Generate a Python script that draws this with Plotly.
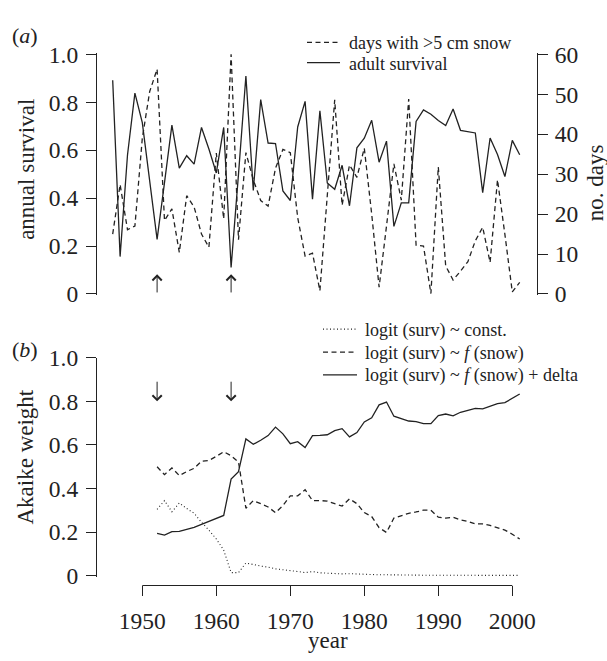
import plotly.graph_objects as go

# ---------------- data ----------------
years_a = list(range(1946, 2002))
adult_survival = [0.892, 0.156, 0.580, 0.838, 0.715, 0.470, 0.228, 0.465, 0.705, 0.525,
                  0.577, 0.542, 0.695, 0.605, 0.505, 0.695, 0.111, 0.500, 0.910, 0.432,
                  0.811, 0.630, 0.628, 0.430, 0.390, 0.697, 0.804, 0.396, 0.764, 0.463,
                  0.437, 0.537, 0.368, 0.610, 0.650, 0.725, 0.550, 0.638, 0.282, 0.380,
                  0.380, 0.720, 0.768, 0.750, 0.724, 0.703, 0.772, 0.683, 0.677, 0.672,
                  0.423, 0.651, 0.582, 0.490, 0.641, 0.581]
snow_days = [15.0, 27.4, 16.1, 17.0, 39.0, 50.7, 56.3, 18.4, 21.3, 10.4,
             24.6, 21.8, 15.0, 11.7, 35.3, 18.8, 60.0, 13.6, 35.4, 28.6,
             23.4, 22.0, 31.5, 36.2, 35.4, 19.1, 9.5, 10.2, 0.8, 24.6,
             48.6, 22.2, 32.3, 29.2, 36.5, 20.0, 1.7, 17.0, 32.6, 23.5,
             48.8, 12.2, 12.0, 0.1, 31.8, 7.0, 3.5, 5.7, 8.1, 13.3,
             16.7, 7.9, 28.6, 14.9, 0.5, 2.9]

years_b = list(range(1952, 2002))
w_const = [0.305, 0.345, 0.294, 0.334, 0.309, 0.287, 0.246, 0.210, 0.169, 0.118,
           0.015, 0.015, 0.059, 0.051, 0.045, 0.040, 0.032, 0.028, 0.025, 0.020,
           0.015, 0.020, 0.014, 0.012, 0.010, 0.009, 0.010, 0.008, 0.007, 0.006,
           0.005, 0.005, 0.004, 0.004, 0.004, 0.004, 0.003, 0.003, 0.003, 0.003,
           0.003, 0.003, 0.002, 0.002, 0.002, 0.002, 0.002, 0.002, 0.002, 0.002]
w_snow = [0.500, 0.464, 0.495, 0.460, 0.478, 0.493, 0.526, 0.529, 0.548, 0.569,
          0.551, 0.522, 0.310, 0.345, 0.331, 0.316, 0.290, 0.322, 0.367, 0.367,
          0.395, 0.345, 0.345, 0.343, 0.331, 0.320, 0.353, 0.331, 0.290, 0.272,
          0.221, 0.199, 0.265, 0.275, 0.287, 0.293, 0.301, 0.301, 0.269, 0.265,
          0.269, 0.257, 0.250, 0.238, 0.238, 0.231, 0.221, 0.210, 0.191, 0.169]
w_delta = [0.195, 0.187, 0.203, 0.204, 0.213, 0.222, 0.236, 0.250, 0.263, 0.277,
           0.444, 0.478, 0.628, 0.603, 0.622, 0.643, 0.682, 0.651, 0.606, 0.615,
           0.588, 0.643, 0.644, 0.647, 0.666, 0.675, 0.637, 0.657, 0.706, 0.725,
           0.784, 0.797, 0.732, 0.722, 0.710, 0.707, 0.698, 0.698, 0.735, 0.742,
           0.734, 0.750, 0.760, 0.768, 0.766, 0.779, 0.790, 0.794, 0.816, 0.834]

event_years = [1952, 1962]
x_ticks = [1950, 1960, 1970, 1980, 1990, 2000]
surv_ticks = [0, 0.2, 0.4, 0.6, 0.8, 1.0]
surv_ticktext = ["0", "0.2", "0.4", "0.6", "0.8", "1.0"]
days_ticks = [0, 10, 20, 30, 40, 50, 60]

top_legend_labels = ["days with >5 cm snow", "adult survival"]
bottom_legend_labels = ["logit (surv) ~ const.",
                        "logit (surv) ~ <i>f</i> (snow)",
                        "logit (surv) ~ <i>f</i> (snow) + delta"]

# ---------------- style / layout helpers ----------------
W, H = 607, 661
def px_x(p):
    return p / W
def px_y(p):
    return 1 - p / H

INK = "#222222"
FONT = "Liberation Serif"
LW = 1.3
DASH = "5px,3.5px"
DOT = "1px,2.5px"

fig = go.Figure()

# top panel
fig.add_trace(go.Scatter(x=years_a, y=snow_days, mode="lines", xaxis="x", yaxis="y2",
                         name=top_legend_labels[0],
                         line=dict(color=INK, width=LW, dash=DASH)))
fig.add_trace(go.Scatter(x=years_a, y=adult_survival, mode="lines", xaxis="x", yaxis="y",
                         name=top_legend_labels[1],
                         line=dict(color=INK, width=LW)))

# bottom panel
fig.add_trace(go.Scatter(x=years_b, y=w_const, mode="lines", xaxis="x2", yaxis="y3",
                         name=bottom_legend_labels[0],
                         line=dict(color=INK, width=1.1, dash=DOT)))
fig.add_trace(go.Scatter(x=years_b, y=w_snow, mode="lines", xaxis="x2", yaxis="y3",
                         name=bottom_legend_labels[1],
                         line=dict(color=INK, width=LW, dash=DASH)))
fig.add_trace(go.Scatter(x=years_b, y=w_delta, mode="lines", xaxis="x2", yaxis="y3",
                         name=bottom_legend_labels[2],
                         line=dict(color=INK, width=LW)))

x_range = [1943.878, 2003.338]
x_dom = [px_x(97), px_x(537)]

def axis_common(standoff):
    return dict(showgrid=False, zeroline=False, linecolor=INK, linewidth=1.2,
                ticks="outside", ticklen=10, tickwidth=1.2, tickcolor=INK,
                ticklabelstandoff=standoff,
                tickfont=dict(family=FONT, size=23.5, color=INK))

fig.update_layout(
    width=W, height=H,
    margin=dict(l=0, r=0, t=0, b=0),
    paper_bgcolor="white", plot_bgcolor="white",
    font=dict(family=FONT, size=22, color=INK),
    showlegend=False,
    xaxis=dict(domain=x_dom, range=x_range, visible=False, anchor="y"),
    yaxis=dict(domain=[px_y(293.5), px_y(41.5)], range=[-0.006, 1.006], anchor="x",
               side="left", showline=True, tickvals=surv_ticks, ticktext=surv_ticktext,
               **axis_common(3)),
    yaxis2=dict(overlaying="y", anchor="x", side="right", range=[-0.36, 60.36],
                showline=True, tickvals=days_ticks, **axis_common(2)),
    xaxis2=dict(domain=x_dom, range=x_range, anchor="free", position=px_y(595),
                showline=False, tickvals=x_ticks, **axis_common(4)),
    yaxis3=dict(domain=[px_y(585.9), px_y(358.3)], range=[-0.004, 1.0], anchor="x2",
                side="left", showline=True, tickvals=surv_ticks, ticktext=surv_ticktext,
                **axis_common(3)),
)

# detached x axis line spanning the tick range (R style)
fig.add_shape(type="line", xref="x2", yref="paper", x0=x_ticks[0], x1=x_ticks[-1],
              y0=px_y(595), y1=px_y(595), line=dict(color=INK, width=1.2))

# manual legends (sample line + label)
legend_specs = [
    (307, 340, 347, 30.5, top_legend_labels[0], DASH, LW),
    (307, 340, 347, 51.5, top_legend_labels[1], "solid", LW),
    (323, 357, 363, 328.5, bottom_legend_labels[0], DOT, 1.1),
    (323, 357, 363, 352.5, bottom_legend_labels[1], DASH, LW),
    (323, 357, 363, 376.0, bottom_legend_labels[2], "solid", LW),
]
annotations = []
for x0, x1, xt, yrow, label, dash, lw in legend_specs:
    fig.add_shape(type="line", xref="paper", yref="paper", x0=px_x(x0), x1=px_x(x1),
                  y0=px_y(yrow), y1=px_y(yrow), line=dict(color=INK, width=lw, dash=dash))
    annotations.append(dict(text=label, x=px_x(xt), y=px_y(yrow + 1), xref="paper",
                            yref="paper", showarrow=False, xanchor="left", yanchor="middle",
                            font=dict(family=FONT, size=18, color=INK)))

for yr in event_years:
    annotations.append(dict(x=yr, y=0.082, xref="x", yref="y", ax=yr, ay=0.0,
                            axref="x", ayref="y", text="", showarrow=True,
                            arrowhead=4, arrowsize=1.8, arrowwidth=1, arrowcolor=INK,
                            standoff=0, startstandoff=0))
    annotations.append(dict(x=yr, y=0.80, xref="x2", yref="y3", ax=yr, ay=0.897,
                            axref="x2", ayref="y3", text="", showarrow=True,
                            arrowhead=4, arrowsize=1.8, arrowwidth=1, arrowcolor=INK,
                            standoff=0, startstandoff=0))

text_annots = [
    ("(<i>a</i>)", 25, 23, 0, 22),
    ("(<i>b</i>)", 25, 350, 0, 22),
    ("annual survival", 27, 163, -90, 23),
    ("no. days", 595, 177, -90, 23),
    ("Akaike weight", 26, 462, -90, 23),
    ("year", 328, 652, 0, 23),
]
for t, xp, yp, ang, fs in text_annots:
    annotations.append(dict(text=t, x=px_x(xp), y=px_y(yp), xref="paper", yref="paper",
                            showarrow=False, textangle=ang, xanchor="center",
                            yanchor="middle", font=dict(family=FONT, size=fs, color=INK)))

fig.update_layout(annotations=annotations)

fig.write_html("out.html")
